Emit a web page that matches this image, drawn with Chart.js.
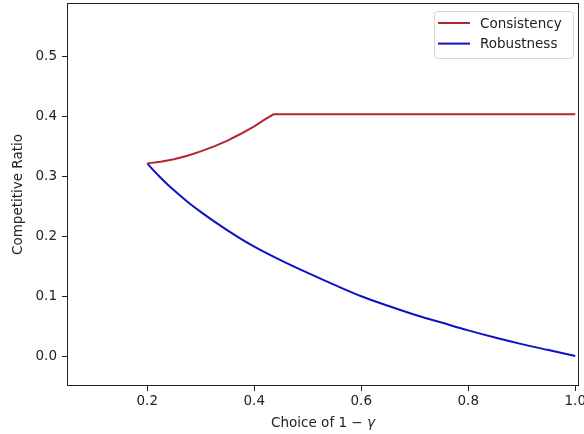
<!DOCTYPE html>
<html>
<head>
<meta charset="utf-8">
<script src="https://cdn.jsdelivr.net/npm/chart.js@4.4.0/dist/chart.umd.min.js"></script>
<style>
  html, body { margin: 0; padding: 0; background: #fff; }
  #wrap { width: 584px; height: 434px; }
</style>
</head>
<body>
<div id="wrap"><canvas id="chart"></canvas></div>
<script>
// values
const robustX = [0.2, 0.21, 0.225, 0.24, 0.25, 0.275, 0.3, 0.325, 0.35, 0.375, 0.4, 0.45, 0.5, 0.55, 0.6, 0.65, 0.7, 0.75, 0.8, 0.85, 0.9, 0.95, 1.0];
const robustY = [0.322, 0.312, 0.298, 0.285, 0.277, 0.258, 0.241, 0.225, 0.210, 0.196, 0.183, 0.160, 0.139, 0.119, 0.100, 0.084, 0.069, 0.056, 0.043, 0.031, 0.020, 0.010, 0.0];
const consistX = [0.2, 0.225, 0.25, 0.275, 0.3, 0.325, 0.35, 0.375, 0.4, 0.42, 0.436, 1.0];
const consistY = [0.322, 0.3248, 0.329, 0.3347, 0.342, 0.3503, 0.360, 0.3715, 0.384, 0.3954, 0.404, 0.404];
const xTicks = [0.2, 0.4, 0.6, 0.8, 1.0];
const yTicks = [0.0, 0.1, 0.2, 0.3, 0.4, 0.5];
const xTitle = ['Choice of 1 \u2212 ', '\u03b3'];   // second part is set in italics

const FONT = { family: "'DejaVu Sans', sans-serif", size: 13.5 };
const INK = '#222';

const toPoints = (xs, ys) => xs.map((x, i) => ({ x: x, y: ys[i] }));

// box around the plot area, like matplotlib spines
const frame = {
    id: 'frame',
    afterDatasetsDraw(chart) {
        const { ctx, chartArea: a } = chart;
        ctx.save();
        ctx.strokeStyle = INK;
        ctx.lineWidth = 1;
        ctx.strokeRect(Math.round(a.left) + 0.5, Math.round(a.top) + 0.5,
            Math.round(a.right - a.left) - 1, Math.round(a.bottom - a.top) - 1);
        ctx.restore();
    }
};

// x axis title with an italic gamma
const mathTitle = {
    id: 'mathTitle',
    afterDraw(chart) {
        const { ctx, chartArea: a } = chart;
        const plain = FONT.size + 'px ' + FONT.family;
        const ital = 'italic ' + plain;
        ctx.save();
        ctx.font = plain;
        const w1 = ctx.measureText(xTitle[0]).width;
        ctx.font = ital;
        const w2 = ctx.measureText(xTitle[1]).width;
        let x = (a.left + a.right) / 2 - (w1 + w2) / 2;
        const y = 423;
        ctx.textBaseline = 'middle';
        ctx.fillStyle = INK;
        ctx.font = plain;
        ctx.fillText(xTitle[0], x, y);
        ctx.font = ital;
        ctx.fillText(xTitle[1], x + w1, y);
        ctx.restore();
    }
};

// legend drawn inside the axes, upper right
const innerLegend = {
    id: 'innerLegend',
    afterDraw(chart) {
        const { ctx, chartArea: a } = chart;
        const sets = chart.data.datasets;
        const boxW = 139, boxH = 47;
        const x0 = a.right - 6 - boxW, y0 = a.top + 8;
        ctx.save();
        ctx.beginPath();
        ctx.roundRect(x0 + 0.5, y0 + 0.5, boxW, boxH, 3);
        ctx.fillStyle = 'rgba(255,255,255,0.8)';
        ctx.fill();
        ctx.strokeStyle = '#d6d6d6';
        ctx.lineWidth = 1;
        ctx.stroke();
        ctx.font = FONT.size + 'px ' + FONT.family;
        ctx.textBaseline = 'middle';
        sets.forEach((ds, i) => {
            const y = y0 + 12 + i * 20.6;
            ctx.beginPath();
            ctx.strokeStyle = ds.borderColor;
            ctx.lineWidth = 2;
            ctx.moveTo(x0 + 4, y);
            ctx.lineTo(x0 + 36, y);
            ctx.stroke();
            ctx.fillStyle = INK;
            ctx.fillText(ds.label, x0 + 46, y + 1);
        });
        ctx.restore();
    }
};

new Chart(document.getElementById('chart'), {
    type: 'line',
    data: {
        datasets: [
            {
                label: 'Consistency',
                data: toPoints(consistX, consistY),
                borderColor: '#b22630',
                borderWidth: 2,
                pointRadius: 0,
                tension: 0
            },
            {
                label: 'Robustness',
                data: toPoints(robustX, robustY),
                borderColor: '#1010c4',
                borderWidth: 2,
                pointRadius: 0,
                cubicInterpolationMode: 'monotone'
            }
        ]
    },
    options: {
        responsive: true,
        maintainAspectRatio: false,
        animation: false,
        layout: { padding: { top: 3, right: 5, left: 0, bottom: 0 } },
        plugins: {
            legend: { display: false },
            tooltip: { enabled: false }
        },
        scales: {
            x: {
                type: 'linear',
                min: 0.05,
                max: 1.007,
                afterBuildTicks: (s) => { s.ticks = xTicks.map(v => ({ value: v })); },
                afterFit: (s) => { s.height = 48; s.paddingLeft = 0; s.paddingRight = 0; },
                grid: { display: true, drawOnChartArea: false, drawTicks: true, tickLength: 5, color: INK },
                border: { display: false },
                ticks: {
                    font: FONT,
                    color: INK,
                    padding: 2,
                    maxRotation: 0,
                    callback: (v) => v.toFixed(1)
                },
                title: { display: false }
            },
            y: {
                type: 'linear',
                min: -0.05,
                max: 0.59,
                afterBuildTicks: (s) => { s.ticks = yTicks.map(v => ({ value: v })); },
                afterFit: (s) => { s.width = 67; s.paddingTop = 0; s.paddingBottom = 0; },
                grid: { display: true, drawOnChartArea: false, drawTicks: true, tickLength: 5, color: INK },
                border: { display: false },
                ticks: {
                    font: FONT,
                    color: INK,
                    padding: 5,
                    callback: (v) => v.toFixed(1)
                },
                title: {
                    display: true,
                    text: 'Competitive Ratio',
                    font: FONT,
                    color: INK,
                    padding: { top: 10, bottom: 0 }
                }
            }
        }
    },
    plugins: [frame, mathTitle, innerLegend]
});
</script>
</body>
</html>
